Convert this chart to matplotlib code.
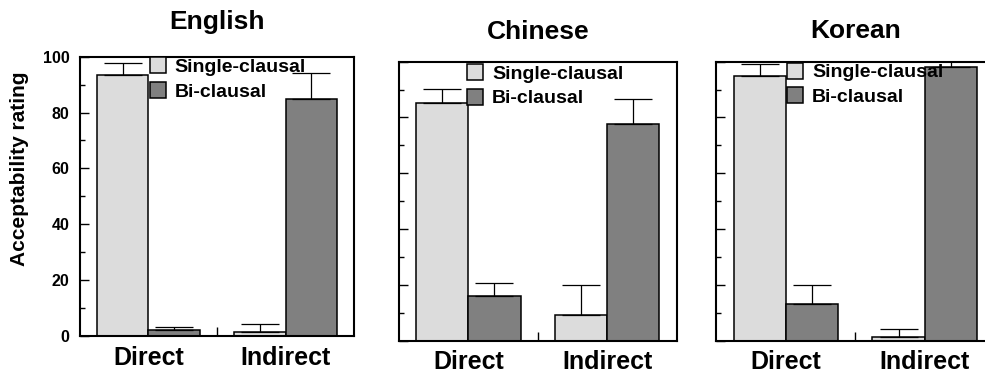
import matplotlib.pyplot as plt
from matplotlib.patches import Patch
from matplotlib.ticker import MultipleLocator

plt.rcParams['font.family'] = ['Liberation Sans', 'DejaVu Sans']
plt.rcParams['font.weight'] = 'bold'

# ratings per language: [Direct, Indirect]
languages = ['English', 'Chinese', 'Korean']
conditions = ['Direct', 'Indirect']
series = ['Single-clausal', 'Bi-clausal']

single_mean = {'English': [93.6, 1.4], 'Chinese': [85.1, 9.2], 'Korean': [95.0, 1.2]}
single_err = {'English': [4.0, 2.8], 'Chinese': [5.0, 10.8], 'Korean': [4.1, 2.9]}
bi_mean = {'English': [2.1, 85.0], 'Chinese': [15.9, 77.7], 'Korean': [13.2, 98.0]}
bi_err = {'English': [1.0, 9.1], 'Chinese': [4.9, 8.8], 'Korean': [6.9, 3.0]}

light = '#dcdcdc'
dark = '#808080'

fig = plt.figure(figsize=(9.85, 3.76), dpi=100)

# axes rectangles (left, bottom, width, height) in figure fractions
rects = {
    'English': [0.0812, 0.1064, 0.2782, 0.7428],
    'Chinese': [0.4051, 0.0939, 0.2819, 0.7420],
    'Korean': [0.7272, 0.0939, 0.2819, 0.7420],
}
title_y = {'English': 1.099, 'Chinese': 1.081, 'Korean': 1.085}
legend_anchor = {'English': (0.254, 0.998), 'Chinese': (0.244, 0.992), 'Korean': (0.2535, 0.997)}


def draw_panel(lang):
    ax = fig.add_axes(rects[lang])
    centers = [1, 3]
    w = 0.75
    xs = [c - w / 2 for c in centers]
    xb = [c + w / 2 for c in centers]
    ax.bar(xs, single_mean[lang], width=w, color=light, edgecolor='black', linewidth=1.1,
           yerr=[[0, 0], single_err[lang]], capsize=14,
           error_kw=dict(elinewidth=0.9, capthick=0.9, ecolor='black'))
    ax.bar(xb, bi_mean[lang], width=w, color=dark, edgecolor='black', linewidth=1.1,
           yerr=[[0, 0], bi_err[lang]], capsize=14,
           error_kw=dict(elinewidth=0.9, capthick=0.9, ecolor='black'))

    ax.set_xlim(0, 4)
    ax.set_ylim(0, 100)
    for s in ax.spines.values():
        s.set_linewidth(1.5)

    ax.set_xticks(centers)
    ax.set_xticklabels(conditions, fontsize=18, fontweight='bold')
    ax.set_xticks([2], minor=True)
    ax.tick_params(axis='x', which='major', length=0, pad=7)
    ax.tick_params(axis='x', which='minor', direction='in', length=6.5, width=1)

    ax.yaxis.set_major_locator(MultipleLocator(20))
    ax.yaxis.set_minor_locator(MultipleLocator(10))
    ax.tick_params(axis='y', which='major', direction='in', length=6.5, width=1, pad=7.5,
                   labelsize=11.5)
    ax.tick_params(axis='y', which='minor', direction='in', length=3.5, width=1)
    if lang != 'English':
        ax.tick_params(axis='y', labelleft=False)
    for t in ax.get_yticklabels():
        t.set_fontweight('bold')

    ax.text(0.5, title_y[lang], lang, transform=ax.transAxes, ha='center', va='baseline',
            fontsize=19, fontweight='bold')

    handles = [Patch(facecolor=light, edgecolor='black', linewidth=1.1, label=series[0]),
               Patch(facecolor=dark, edgecolor='black', linewidth=1.1, label=series[1])]
    leg = ax.legend(handles=handles, loc='upper left', bbox_to_anchor=legend_anchor[lang],
                    frameon=False, borderpad=0, borderaxespad=0, handlelength=0.85,
                    handleheight=0.9, handletextpad=0.45, labelspacing=0.3,
                    prop=dict(size=14, weight='bold'))
    leg.set_zorder(5)
    return ax


for lang in languages:
    draw_panel(lang)

fig.text(20 / 985, 0.5505, 'Acceptability rating', rotation=90, ha='center', va='center',
         fontsize=15, fontweight='bold')

fig.savefig('out.png', dpi=100)
